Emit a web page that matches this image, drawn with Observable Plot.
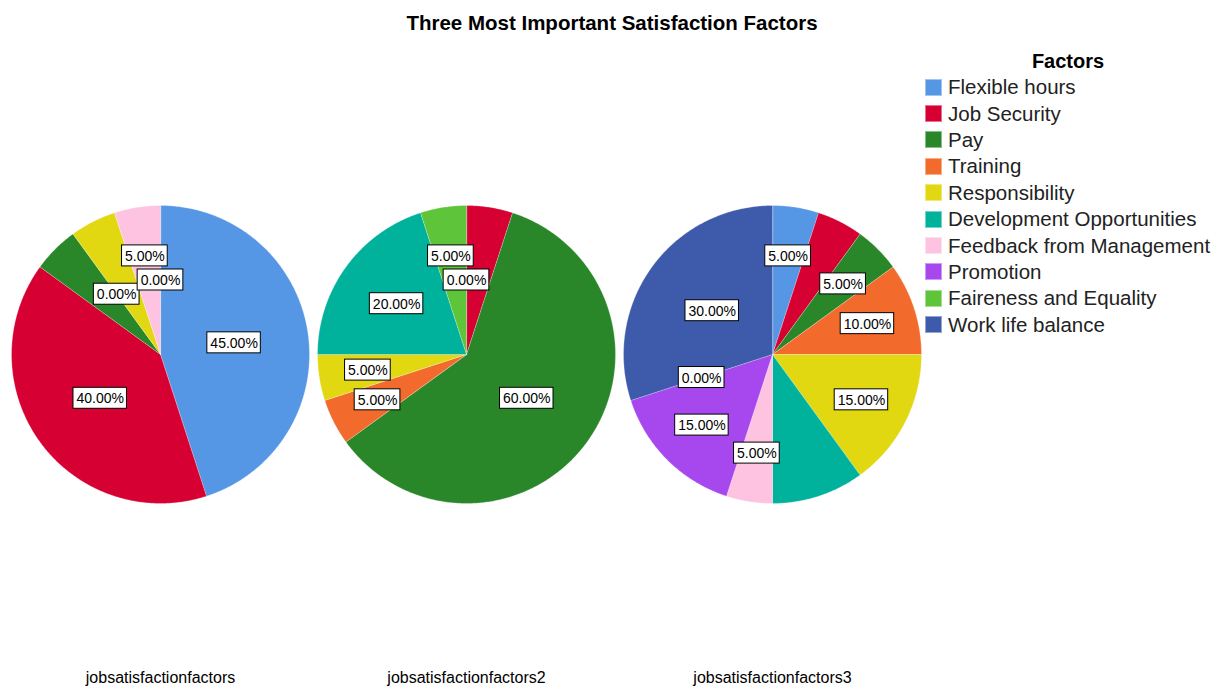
<!DOCTYPE html>
<html>
<head>
<meta charset="utf-8">
<script src="https://cdn.jsdelivr.net/npm/d3@7"></script>
<script src="https://cdn.jsdelivr.net/npm/@observablehq/plot@0.6"></script>
<style>
  html, body { margin: 0; padding: 0; background: #fff; }
  #wrap { position: relative; width: 1229px; height: 686px; font-family: "Liberation Sans", Arial, sans-serif; }
  #title { position: absolute; left: 0; width: 1224px; top: 11px; text-align: center; font-weight: bold; font-size: 20.5px; color: #000; }
  #legend { position: absolute; left: 925px; top: 48px; font-size: 20.5px; color: #222; }
  #legend .lt { font-weight: bold; text-align: center; width: 286px; font-size: 20px; color: #000; height: 26px; line-height: 26px; }
  #legend .row { display: flex; align-items: center; height: 26.4px; }
  #legend .sw { width: 17px; height: 17px; margin-right: 6px; box-sizing: border-box; border: 1px solid rgba(255,255,255,0.45); }
</style>
</head>
<body>
<div id="wrap">
  <div id="chart"></div>
  <div id="title">Three Most Important Satisfaction Factors</div>
  <div id="legend"></div>
</div>
<script>
// ---- data ----
const factors = ["Flexible hours", "Job Security", "Pay", "Training", "Responsibility",
  "Development Opportunities", "Feedback from Management", "Promotion", "Faireness and Equality", "Work life balance"];
const colors = ["#5597E5", "#D60032", "#2A8729", "#F26A2C", "#E2D812", "#00B29C", "#FFC3E2", "#A748EE", "#5EC43A", "#3E5AAA"];
const pies = ["jobsatisfactionfactors", "jobsatisfactionfactors2", "jobsatisfactionfactors3"];
const values1 = [45, 40, 5, 0, 5, 0, 5, 0, 0, 0];
const values2 = [0, 5, 60, 5, 5, 20, 0, 0, 5, 0];
const values3 = [5, 5, 5, 10, 15, 10, 5, 15, 0, 30];
// which slice labels are visible in each pie (1 = shown)
const shown1 = [1, 1, 0, 1, 0, 0, 1, 0, 0, 1];
const shown2 = [0, 0, 1, 1, 1, 1, 0, 0, 1, 1];
const shown3 = [1, 0, 1, 1, 1, 0, 1, 1, 1, 1];

const allValues = [values1, values2, values3];
const allShown = [shown1, shown2, shown3];

// ---- geometry built from the values ----
const R = 149;
const slicePts = [];
const labels = [];
const ctx = document.createElement("canvas").getContext("2d");
ctx.font = "14px 'Liberation Sans'";

pies.forEach((pie, p) => {
  const vals = allValues[p];
  const total = d3.sum(vals);
  let cum = 0;
  vals.forEach((v, i) => {
    const a0 = cum / total * 2 * Math.PI;
    cum += v;
    const a1 = cum / total * 2 * Math.PI;
    const key = pie + "|" + i;
    if (v > 0) {
      slicePts.push({pie, key, factor: factors[i], x: 0, y: 0});
      const n = Math.max(2, Math.ceil((a1 - a0) / 0.01));
      for (let k = 0; k <= n; k++) {
        const a = a0 + (a1 - a0) * k / n;
        slicePts.push({pie, key, factor: factors[i], x: R * Math.sin(a), y: R * Math.cos(a)});
      }
    }
    if (allShown[p][i]) {
      const am = (a0 + a1) / 2;
      const frac = v / total;
      const rf = (frac === 0 || frac >= 0.3) ? 0.5 : frac >= 0.2 ? 0.58 : 0.67;
      const text = (frac * 100).toFixed(2) + "%";
      const w = ctx.measureText(text).width + 6;
      const cx = rf * R * Math.sin(am), cy = rf * R * Math.cos(am);
      labels.push({pie, text, x: cx, y: cy, x1: cx - w / 2, x2: cx + w / 2, y1: cy - 10.5, y2: cy + 10.5});
    }
  });
});

const chart = Plot.plot({
  width: 1229,
  height: 686,
  marginLeft: 7,
  marginRight: 304,
  marginTop: 40,
  marginBottom: 22,
  style: {fontFamily: "'Liberation Sans', Arial, sans-serif", background: "white"},
  fx: {domain: pies, padding: 0, label: null},
  x: {domain: [-153, 153], axis: null},
  y: {domain: [-310, 314], axis: null},
  color: {domain: factors, range: colors},
  marks: [
    Plot.line(slicePts, {fx: "pie", x: "x", y: "y", z: "key", fill: "factor",
      stroke: "white", strokeOpacity: 0.35, strokeWidth: 0.8, curve: "linear-closed"}),
    Plot.rect(labels, {fx: "pie", x1: "x1", x2: "x2", y1: "y1", y2: "y2", fill: "white", stroke: "black", strokeWidth: 1}),
    Plot.text(labels, {fx: "pie", x: "x", y: "y", text: "text", fontSize: 14, fill: "black", dy: 0.5}),
    Plot.axisFx({anchor: "bottom", tickSize: 0, tickPadding: 7, fontSize: 16, label: null, color: "#000"})
  ]
});
document.getElementById("chart").appendChild(chart);

// ---- legend ----
const lg = document.getElementById("legend");
const lt = document.createElement("div");
lt.className = "lt";
lt.textContent = "Factors";
lg.appendChild(lt);
factors.forEach((f, i) => {
  const row = document.createElement("div");
  row.className = "row";
  const sw = document.createElement("div");
  sw.className = "sw";
  sw.style.background = colors[i];
  const t = document.createElement("span");
  t.textContent = f;
  row.appendChild(sw);
  row.appendChild(t);
  lg.appendChild(row);
});
</script>
</body>
</html>
